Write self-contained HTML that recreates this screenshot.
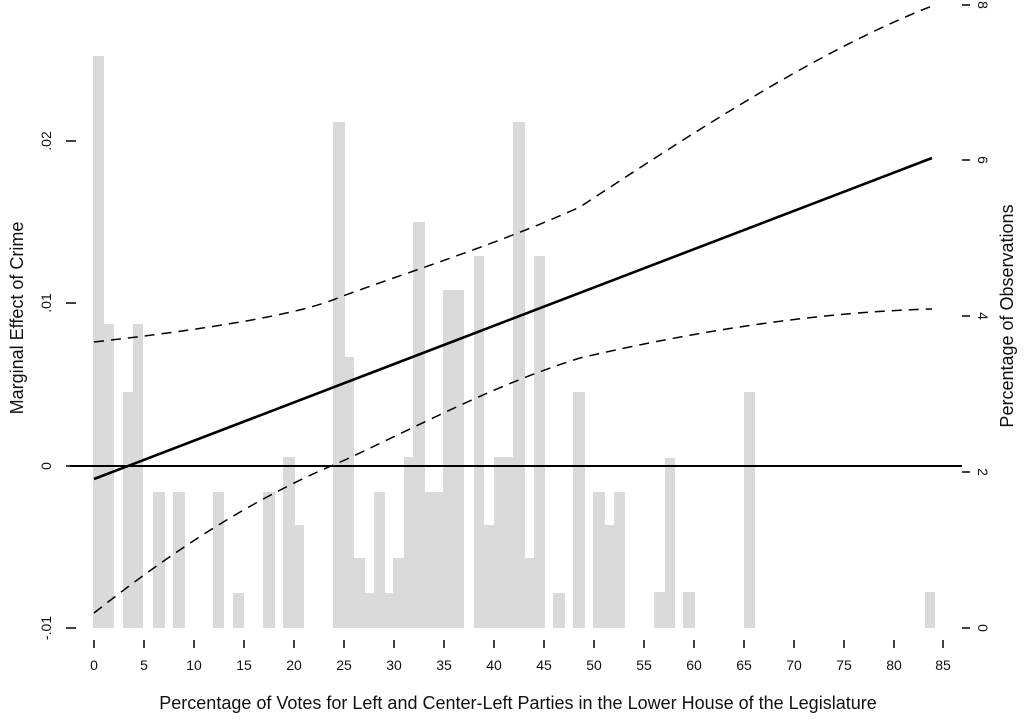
<!DOCTYPE html>
<html><head><meta charset="utf-8"><style>
html,body{margin:0;padding:0;background:#fff;}
svg{display:block;font-family:"Liberation Sans",Arial,sans-serif;}
</style></head><body>
<svg width="1024" height="722" viewBox="0 0 1024 722" xmlns="http://www.w3.org/2000/svg">
<g fill="#dadada">
<rect x="93" y="56" width="11" height="572"/>
<rect x="104" y="324" width="10" height="304"/>
<rect x="123" y="392" width="10" height="236"/>
<rect x="133" y="324" width="10" height="304"/>
<rect x="153" y="492" width="12" height="136"/>
<rect x="173" y="492" width="12" height="136"/>
<rect x="213" y="492" width="11" height="136"/>
<rect x="233" y="593" width="11" height="35"/>
<rect x="263" y="492" width="12" height="136"/>
<rect x="283" y="457" width="12" height="171"/>
<rect x="295" y="525" width="9" height="103"/>
<rect x="333" y="122" width="12" height="506"/>
<rect x="345" y="357" width="9" height="271"/>
<rect x="354" y="558" width="11" height="70"/>
<rect x="365" y="593" width="9" height="35"/>
<rect x="374" y="492" width="11" height="136"/>
<rect x="385" y="593" width="8" height="35"/>
<rect x="393" y="558" width="11" height="70"/>
<rect x="404" y="457" width="9" height="171"/>
<rect x="413" y="222" width="12" height="406"/>
<rect x="425" y="492" width="18" height="136"/>
<rect x="443" y="290" width="21" height="338"/>
<rect x="474" y="256" width="10" height="372"/>
<rect x="484" y="525" width="10" height="103"/>
<rect x="494" y="457" width="19" height="171"/>
<rect x="513" y="122" width="12" height="506"/>
<rect x="525" y="558" width="9" height="70"/>
<rect x="534" y="256" width="11" height="372"/>
<rect x="553" y="593" width="12" height="35"/>
<rect x="573" y="392" width="12" height="236"/>
<rect x="593" y="492" width="12" height="136"/>
<rect x="605" y="525" width="9" height="103"/>
<rect x="614" y="492" width="11" height="136"/>
<rect x="654" y="592" width="11" height="36"/>
<rect x="665" y="458" width="10" height="170"/>
<rect x="683" y="592" width="12" height="36"/>
<rect x="744" y="392" width="11" height="236"/>
<rect x="925" y="592" width="10" height="36"/>
</g>
<line x1="70" y1="466" x2="962" y2="466" stroke="#000" stroke-width="2"/>
<line x1="94" y1="479" x2="932" y2="158" stroke="#000" stroke-width="2.6"/>
<g fill="none" stroke="#000" stroke-width="1.5" stroke-dasharray="10,7">
<path d="M94,342 C200,330 300,315 340,297 C420,268 500,243 580,207 C700,128 820,50 932,6"/>
<path d="M94,613 C180,545 260,495 345,460 C430,420 500,383 580,358 C700,330 820,312 932,309"/>
</g>
<g stroke="#000" stroke-width="1.5">
<line x1="66" y1="141" x2="76" y2="141"/><line x1="66" y1="303" x2="76" y2="303"/>
<line x1="66" y1="466" x2="76" y2="466"/><line x1="66" y1="628" x2="76" y2="628"/>
<line x1="962" y1="5" x2="970" y2="5"/><line x1="962" y1="160" x2="970" y2="160"/>
<line x1="962" y1="316" x2="970" y2="316"/><line x1="962" y1="472" x2="970" y2="472"/>
<line x1="962" y1="628" x2="970" y2="628"/>
</g>
<g stroke="#000" stroke-width="1.5">
<line x1="94" y1="640" x2="94" y2="648"/><line x1="144" y1="640" x2="144" y2="648"/>
<line x1="194" y1="640" x2="194" y2="648"/><line x1="244" y1="640" x2="244" y2="648"/>
<line x1="294" y1="640" x2="294" y2="648"/><line x1="344" y1="640" x2="344" y2="648"/>
<line x1="394" y1="640" x2="394" y2="648"/><line x1="444" y1="640" x2="444" y2="648"/>
<line x1="494" y1="640" x2="494" y2="648"/><line x1="544" y1="640" x2="544" y2="648"/>
<line x1="594" y1="640" x2="594" y2="648"/><line x1="644" y1="640" x2="644" y2="648"/>
<line x1="694" y1="640" x2="694" y2="648"/><line x1="744" y1="640" x2="744" y2="648"/>
<line x1="794" y1="640" x2="794" y2="648"/><line x1="844" y1="640" x2="844" y2="648"/>
<line x1="894" y1="640" x2="894" y2="648"/><line x1="943" y1="640" x2="943" y2="648"/>
</g>
<g font-size="14" text-anchor="middle" fill="#111">
<text x="94" y="670">0</text><text x="144" y="670">5</text><text x="194" y="670">10</text>
<text x="244" y="670">15</text><text x="294" y="670">20</text><text x="344" y="670">25</text>
<text x="394" y="670">30</text><text x="444" y="670">35</text><text x="494" y="670">40</text>
<text x="544" y="670">45</text><text x="594" y="670">50</text><text x="644" y="670">55</text>
<text x="694" y="670">60</text><text x="744" y="670">65</text><text x="794" y="670">70</text>
<text x="844" y="670">75</text><text x="894" y="670">80</text><text x="943" y="670">85</text>
</g>
<g font-size="14" text-anchor="middle" fill="#111">
<text transform="translate(51,141) rotate(-90)">.02</text>
<text transform="translate(51,303) rotate(-90)">.01</text>
<text transform="translate(51,466) rotate(-90)">0</text>
<text transform="translate(51,628) rotate(-90)">-.01</text>
<text transform="translate(978,5) rotate(90)">8</text>
<text transform="translate(978,160) rotate(90)">6</text>
<text transform="translate(978,316) rotate(90)">4</text>
<text transform="translate(978,472) rotate(90)">2</text>
<text transform="translate(978,628) rotate(90)">0</text>
</g>
<text transform="translate(23,318) rotate(-90)" font-size="18" text-anchor="middle" fill="#111">Marginal Effect of Crime</text>
<text transform="translate(1013,316) rotate(-90)" font-size="18" text-anchor="middle" fill="#111">Percentage of Observations</text>
<text x="518" y="709" font-size="18" text-anchor="middle" fill="#111">Percentage of Votes for Left and Center-Left Parties in the Lower House of the Legislature</text>
</svg>
</body></html>
